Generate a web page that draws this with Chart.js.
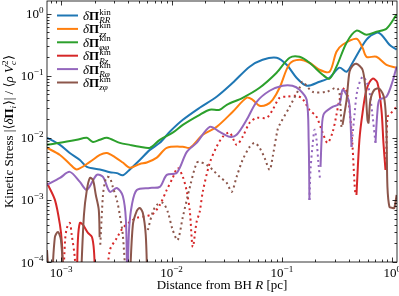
<!DOCTYPE html>
<html>
<head>
<meta charset="utf-8">
<script src="https://cdn.jsdelivr.net/npm/chart.js@4.4.1/dist/chart.umd.min.js"></script>
<style>
  html, body { margin: 0; padding: 0; background: #fff; }
</style>
</head>
<body>
<canvas id="stress" width="399" height="296"></canvas>
<script>
// components of the kinetic stress tensor (legend order)
const components = ['RR', 'zz', 'φφ', 'Rz', 'Rφ', 'zφ'];
const colors = ['#1f77b4', '#ff7f0e', '#2ca02c', '#d62728', '#9467bd', '#8c564b'];

// R [pc] and |<dPi>| / <rho Vc^2>; solid = positive, dotted = negative, null = break
const rrR = [7.4e-4, 9.7e-4, 1.19e-3, 1.47e-3, 1.70e-3, 2.23e-3, 2.75e-3, 3.18e-3, 3.60e-3, 4.17e-3, 5.13e-3, 6.33e-3, 7.79e-3, 9.59e-3, 1.26e-2, 1.79e-2, 2.55e-2, 3.57e-2, 5.08e-2, 6.66e-2, 8.92e-2, 0.110, 0.135, 0.167, 0.218, 0.269, 0.331, 0.384, 0.435, 0.582, 0.716, 0.795, 0.940, 1.09];
const rrS = [0.0100, 0.0077, 0.0057, 0.0044, 0.0034, 0.0031, 0.0028, 0.0027, 0.0025, 0.0031, 0.0044, 0.0064, 0.0083, 0.0125, 0.0195, 0.0305, 0.0459, 0.0771, 0.140, 0.181, 0.195, 0.150, 0.093, 0.069, 0.080, 0.093, 0.135, 0.116, 0.162, 0.381, 0.494, 0.459, 0.316, 0.263];

const zzR = [7.4e-4, 9.7e-4, 1.19e-3, 1.38e-3, 1.81e-3, 2.23e-3, 2.58e-3, 3.05e-3, 3.60e-3, 4.17e-3, 5.13e-3, 5.94e-3, 7.32e-3, 9.01e-3, 1.26e-2, 1.46e-2, 1.91e-2, 2.55e-2, 3.57e-2, 4.77e-2, 5.41e-2, 6.25e-2, 7.24e-2, 8.21e-2, 9.49e-2, 0.117, 0.144, 0.177, 0.218, 0.269, 0.311, 0.353, 0.472, 0.536, 0.582, 0.716, 0.883, 1.09];
const zzS = [0.0069, 0.0053, 0.0038, 0.0031, 0.0041, 0.0053, 0.0057, 0.0049, 0.0040, 0.0033, 0.0038, 0.0040, 0.0048, 0.0069, 0.0072, 0.0069, 0.0112, 0.0150, 0.0263, 0.0442, 0.0410, 0.0328, 0.0341, 0.0410, 0.0641, 0.156, 0.181, 0.162, 0.125, 0.116, 0.244, 0.316, 0.395, 0.283, 0.202, 0.202, 0.150, 0.135];

const ppR = [7.4e-4, 9.7e-4, 1.38e-3, 1.70e-3, 1.93e-3, 2.23e-3, 2.58e-3, 3.38e-3, 4.17e-3, 5.13e-3, 6.33e-3, 7.79e-3, 1.02e-2, 1.26e-2, 1.79e-2, 2.21e-2, 2.72e-2, 3.15e-2, 4.39e-2, 6.25e-2, 8.92e-2, 0.117, 0.144, 0.177, 0.233, 0.269, 0.311, 0.384, 0.472, 0.582, 0.716, 0.883, 1.09];
const ppS = [0.0077, 0.0083, 0.0093, 0.0100, 0.0086, 0.0093, 0.0100, 0.0083, 0.0077, 0.0072, 0.0069, 0.0093, 0.0121, 0.0162, 0.0235, 0.0283, 0.0283, 0.0341, 0.0442, 0.0641, 0.112, 0.195, 0.202, 0.162, 0.104, 0.0895, 0.140, 0.341, 0.532, 0.459, 0.513, 0.573, 0.964];

const rzR = [7.4e-4, 8.73e-4, 9.7e-4, 1.01e-3, 1.04e-3, 1.2e-3, 1.38e-3, 1.41e-3, 1.47e-3, 1.57e-3, 1.74e-3, 1.89e-3, 1.97e-3, 2.03e-3, 0.2, 0.472, 0.502, 0.536, 0.582, 0.659, 0.731, 0.795, 0.829, 0.865];
const rzS = [0.00188, 0.0010, 3.95e-4, 2.02e-4, 5e-5, null, 5e-5, 2.26e-4, 4.26e-4, 3.95e-4, 2.94e-4, 2.53e-4, 1.56e-4, 5e-5, null, 0.0012, 0.00929, 0.0253, 0.0595, 0.0895, 0.0771, 0.0283, 0.0083, 0.00305];
const rzNegR = [1.04e-3, 1.08e-3, 1.12e-3, 1.19e-3, 1.24e-3, 1.32e-3, 1.35e-3, 1.9e-3, 2.58e-3, 2.75e-3, 3.18e-3, 3.60e-3, 4.17e-3, 4.82e-3, 5.94e-3, 6.73e-3, 7.79e-3, 9.01e-3, 1.02e-2, 1.13e-2, 1.26e-2, 1.37e-2, 1.46e-2, 1.55e-2, 1.68e-2, 1.79e-2, 1.91e-2, 2.21e-2, 2.55e-2, 2.90e-2, 3.35e-2, 3.87e-2, 4.39e-2, 5.08e-2, 5.88e-2, 7.24e-2, 8.21e-2, 9.49e-2, 0.110, 0.135, 0.153, 0.177, 0.205, 0.233, 0.258, 0.286, 0.311, 0.331, 0.368, 0.392, 0.417, 0.435, 0.453, 0.462, 0.6, 0.874, 0.901, 0.940, 1.09];
const rzNegS = [5e-5, 2.26e-4, 3.53e-4, 4.26e-4, 2.73e-4, 1.2e-4, 5e-5, null, 5e-5, 1.56e-4, 2.44e-4, 3.53e-4, 4.42e-4, 5.13e-4, 5.52e-4, 5.94e-4, 8.3e-4, 0.00145, 0.00226, 0.00328, 0.00235, 0.00135, 6.4e-4, 1.75e-4, 4.42e-4, 6.4e-4, 0.00135, 0.00395, 0.00716, 0.0104, 0.0121, 0.00771, 0.0104, 0.0175, 0.021, 0.021, 0.0283, 0.0442, 0.0459, 0.0475, 0.0426, 0.0283, 0.0218, 0.0121, 0.0083, 0.0121, 0.0235, 0.041, 0.0641, 0.0494, 0.0195, 0.00716, 0.00188, 0.0012, null, 0.00305, 0.0218, 0.0235, 0.0316];

const rpR = [7.4e-4, 9.7e-4, 1.19e-3, 1.47e-3, 1.70e-3, 2.09e-3, 2.38e-3, 2.75e-3, 3.18e-3, 3.60e-3, 3.84e-3, 3.96e-3, 4.10e-3, 4.35e-3, 4.82e-3, 6.33e-3, 7.79e-3, 9.01e-3, 1.11e-2, 1.37e-2, 1.68e-2, 2.21e-2, 2.72e-2, 3.35e-2, 3.87e-2, 4.77e-2, 5.88e-2, 7.71e-2, 0.101, 0.124, 0.144, 0.167, 0.174, 0.177, 0.200, 0.223, 0.228, 0.237, 0.286, 0.331, 0.353, 0.384, 0.408, 0.426, 0.55, 0.702, 0.731, 0.762, 0.883, 1.0, 1.09];
const rpS = [0.00175, 0.00226, 0.00283, 0.00195, 0.00145, 0.00253, 0.00235, 0.00135, 0.00156, 0.00116, 4.8e-4, 5e-5, 3.3e-4, 8.3e-4, 0.00145, 0.00156, 0.00162, 0.00253, 0.00273, 0.00595, 0.0083, 0.0150, 0.0125, 0.0104, 0.0112, 0.0195, 0.0381, 0.0573, 0.069, 0.069, 0.0595, 0.041, 0.0093, 0.0010, null, 0.00341, 0.0093, 0.0235, 0.0316, 0.0353, 0.0595, 0.0494, 0.0341, 0.00716, null, 0.0083, 0.0263, 0.041, 0.0459, 0.080, 0.140];
const rpNegR = [0.177, 0.181, 0.189, 0.197, 0.205, 0.214, 0.221, 0.3, 0.426, 0.453, 0.482, 0.536, 0.582, 0.619, 0.659, 0.702];
const rpNegS = [0.0010, 0.00305, 0.0077, 0.0135, 0.0093, 0.0037, 0.0021, null, 0.00716, 0.0235, 0.0595, 0.0964, 0.080, 0.0552, 0.0235, 0.0083];

const zpR = [7.4e-4, 7.7e-4, 7.9e-4, 8.2e-4, 8.73e-4, 9.3e-4, 9.9e-4, 1.05e-3, 1.3e-3, 1.50e-3, 1.60e-3, 1.70e-3, 1.81e-3, 1.93e-3, 2.05e-3, 2.18e-3, 2.22e-3, 3.0e-3, 4.17e-3, 4.44e-3, 4.82e-3, 5.13e-3, 5.47e-3, 5.81e-3, 6.0e-3, 0.2, 0.353, 0.384, 0.408, 0.435, 0.472, 0.536, 0.570, 0.594, 0.607, 0.632, 0.687, 0.762, 0.847, 0.883, 0.901, 0.940, 1.0, 1.04, 1.09];
const zpS = [1.56e-4, 5e-5, null, 5e-5, 2.53e-4, 3.05e-4, 2.26e-4, 5e-5, null, 5e-5, 5.73e-4, 0.00145, 0.00226, 0.0021, 0.0012, 6.9e-4, 2.5e-4, null, 5e-5, 3.95e-4, 6.65e-4, 7.43e-4, 6.17e-4, 2.73e-4, 5e-5, null, 0.0162, 0.041, 0.116, 0.145, 0.156, 0.125, 0.0595, 0.0195, 0.0175, 0.041, 0.0595, 0.0617, 0.041, 0.0121, 0.00162, 7.71e-4, 7.43e-4, 7.43e-4, 0.0012];
const zpNegR = [2.25e-3, 2.38e-3, 2.48e-3, 2.58e-3, 2.75e-3, 2.92e-3, 3.18e-3, 3.38e-3, 3.60e-3, 3.84e-3, 5.0e-3, 6.07e-3, 6.73e-3, 7.32e-3, 8.30e-3, 9.20e-3, 1.02e-2, 1.13e-2, 1.26e-2, 1.46e-2, 1.68e-2, 1.79e-2, 2.07e-2, 2.35e-2, 2.72e-2, 3.15e-2, 3.49e-2, 3.87e-2, 4.39e-2, 5.08e-2, 5.64e-2, 6.25e-2, 6.94e-2, 7.71e-2, 8.21e-2, 9.10e-2, 9.49e-2, 0.117, 0.144, 0.153, 0.189, 0.253, 0.311, 0.331, 0.345];
const zpNegS = [1.9e-4, 0.0012, 0.00195, 0.00235, 0.00226, 0.00162, 0.0010, 5.73e-4, 2.73e-4, 5e-5, null, 3.28e-4, 6.4e-4, 8.3e-4, 8.95e-4, 6.4e-4, 3.28e-4, 2.26e-4, 5.32e-4, 0.00162, 0.00395, 0.0041, 0.00367, 0.00305, 0.00235, 0.00188, 0.00135, 0.00235, 0.00442, 0.00716, 0.0083, 0.0069, 0.00476, 0.00305, 0.00494, 0.0135, 0.0162, 0.0316, 0.0641, 0.080, 0.0552, 0.0552, 0.0641, 0.0532, 0.015];

const seriesPos = [[rrR, rrS], [zzR, zzS], [ppR, ppS], [rzR, rzS], [rpR, rpS], [zpR, zpS]];
const seriesNeg = [null, null, null, [rzNegR, rzNegS], [rpNegR, rpNegS], [zpNegR, zpNegS]];

const FAM = '"Liberation Serif", "DejaVu Serif", serif';

function pts(xs, ys) {
  return xs.map((x, i) => ({ x: x, y: ys[i] }));
}

const datasets = [];
components.forEach((c, k) => {
  datasets.push({
    label: c, data: pts(seriesPos[k][0], seriesPos[k][1]),
    borderColor: colors[k], borderWidth: 2, order: 20 - 2 * k, clip: 0
  });
  if (seriesNeg[k]) {
    datasets.push({
      label: c + ' (neg)', data: pts(seriesNeg[k][0], seriesNeg[k][1]),
      borderColor: colors[k], borderWidth: 2, borderDash: [2, 3.3], order: 19 - 2 * k, clip: 0
    });
  }
});

function fnt(style, size) { return (style || '') + ' ' + size + 'px ' + FAM; }

function partWidth(ctx, p, base) {
  if (p.sup !== undefined) {
    ctx.font = fnt(p.supF, base * 0.7);
    const a = ctx.measureText(p.sup).width;
    ctx.font = fnt(p.subF, base * 0.7);
    const b = ctx.measureText(p.sub).width;
    return Math.max(a, b) + 0.5;
  }
  ctx.font = fnt(p.f, base);
  return ctx.measureText(p.t).width;
}

// text with super/subscripts, still drawn as text
function drawRich(ctx, x, y, parts, base, align) {
  const ws = parts.map(p => partWidth(ctx, p, base));
  const tot = ws.reduce((s, w) => s + w, 0);
  let cx = align === 'center' ? x - tot / 2 : (align === 'right' ? x - tot : x);
  ctx.textAlign = 'left';
  ctx.textBaseline = 'alphabetic';
  parts.forEach((p, i) => {
    if (p.sup !== undefined) {
      if (p.sup) { ctx.font = fnt(p.supF, base * 0.7); ctx.fillText(p.sup, cx, y - base * 0.42); }
      if (p.sub) { ctx.font = fnt(p.subF, base * 0.7); ctx.fillText(p.sub, cx, y + base * 0.26); }
    } else {
      ctx.font = fnt(p.f, base);
      ctx.fillText(p.t, cx, y);
    }
    cx += ws[i];
  });
}

const decor = {
  id: 'decor',
  afterDraw(chart) {
    const ctx = chart.ctx, a = chart.chartArea;
    const xs = chart.scales.x, ys = chart.scales.y;
    ctx.save();
    ctx.strokeStyle = '#000';
    ctx.fillStyle = '#000';
    ctx.lineWidth = 0.8;
    ctx.strokeRect(a.left, a.top, a.right - a.left, a.bottom - a.top);

    ctx.beginPath();
    for (let d = -5; d <= 1; d++) {
      for (let m = 1; m <= 9; m++) {
        const v = m * Math.pow(10, d);
        const len = m === 1 ? 4.5 : 2.5;
        if (v >= xs.min && v <= xs.max) {
          const px = Math.round(xs.getPixelForValue(v)) + 0.5;
          ctx.moveTo(px, a.bottom); ctx.lineTo(px, a.bottom - len);
          ctx.moveTo(px, a.top); ctx.lineTo(px, a.top + len);
        }
        if (v >= ys.min && v <= ys.max) {
          const py = Math.round(ys.getPixelForValue(v)) + 0.5;
          ctx.moveTo(a.left, py); ctx.lineTo(a.left + len, py);
          ctx.moveTo(a.right, py); ctx.lineTo(a.right - len, py);
        }
      }
    }
    ctx.stroke();

    // tick labels
    for (let d = -4; d <= 0; d++) {
      const v = Math.pow(10, d);
      const lab = [{ t: '10' }, { sup: d === 0 ? '0' : '−' + (-d), sub: '' }];
      if (v >= xs.min && v <= xs.max) {
        drawRich(ctx, xs.getPixelForValue(v), 277, lab, 13, 'center');
      }
      if (v >= ys.min * 0.99 && v <= ys.max) {
        drawRich(ctx, a.left - 3, ys.getPixelForValue(v) + 4.5, lab, 13, 'right');
      }
    }

    // axis titles
    drawRich(ctx, (a.left + a.right) / 2, 289,
      [{ t: 'Distance from BH ' }, { t: 'R', f: 'italic' }, { t: ' [pc]' }], 13, 'center');
    ctx.save();
    ctx.translate(13, (a.top + a.bottom) / 2);
    ctx.rotate(-Math.PI / 2);
    drawRich(ctx, 0, 0, [
      { t: 'Kinetic Stress |⟨' }, { t: 'δ', f: 'italic' }, { t: 'Π', f: 'bold' },
      { sup: '', sub: 'i', subF: 'italic' }, { t: '⟩| / ⟨' }, { t: 'ρ V', f: 'italic' },
      { sup: '2', sub: 'c', subF: 'italic' }, { t: '⟩' }
    ], 13, 'center');
    ctx.restore();

    // legend
    components.forEach((c, k) => {
      const yc = 15.5 + k * 13.4;
      ctx.strokeStyle = colors[k];
      ctx.lineWidth = 2;
      ctx.beginPath();
      ctx.moveTo(57, yc); ctx.lineTo(78, yc);
      ctx.stroke();
      drawRich(ctx, 83, yc + 4.5, [
        { t: 'δ', f: 'italic' }, { t: 'Π', f: 'bold' },
        { sup: 'kin', sub: c, subF: 'italic' }
      ], 13, 'left');
    });
    ctx.restore();
  }
};

new Chart(document.getElementById('stress'), {
  type: 'line',
  data: { datasets: datasets },
  options: {
    responsive: false,
    animation: false,
    layout: { padding: { left: 47, right: 2, top: 1, bottom: 34 } },
    scales: {
      x: { type: 'logarithmic', min: 7.4e-4, max: 1.1, display: false },
      y: { type: 'logarithmic', min: 1e-4, max: 1.6, display: false }
    },
    elements: { point: { radius: 0 }, line: { tension: 0.3 } },
    plugins: { legend: { display: false }, tooltip: { enabled: false } }
  },
  plugins: [decor]
});
</script>
</body>
</html>
